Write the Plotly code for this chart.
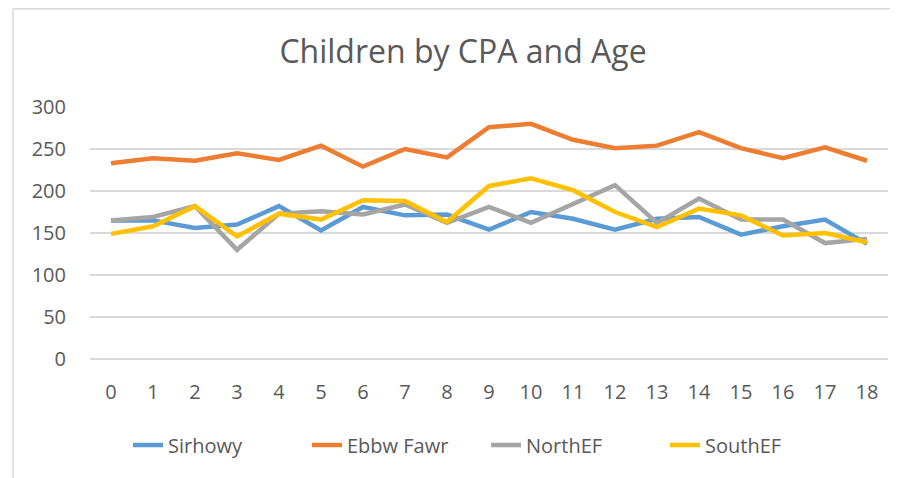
import plotly.graph_objects as go

ages = [str(i) for i in range(19)]
sirhowy = [165, 165, 156, 160, 182, 153, 181, 171, 172, 154, 175, 167, 154, 167, 169, 148, 158, 166, 137]
ebbw_fawr = [233, 239, 236, 245, 237, 254, 229, 250, 240, 276, 280, 261, 251, 254, 270, 251, 239, 252, 236]
north_ef = [165, 169, 182, 130, 173, 176, 172, 184, 162, 181, 162, 185, 207, 162, 191, 166, 166, 138, 143]
south_ef = [149, 158, 182, 146, 173, 166, 189, 188, 163, 206, 215, 201, 175, 157, 179, 171, 147, 150, 139]

series = [
    ("Sirhowy", sirhowy, "#5B9BD5"),
    ("Ebbw Fawr", ebbw_fawr, "#ED7D31"),
    ("NorthEF", north_ef, "#A5A5A5"),
    ("SouthEF", south_ef, "#FFC000"),
]

fig = go.Figure()
for name, vals, color in series:
    fig.add_trace(go.Scatter(x=ages, y=vals, name=name, mode="lines",
                             line=dict(color=color, width=4.5)))

# figure is offset by the page's 8px body margin
L, T, W, H = 82, 99, 798, 252
FW, FH = 898, 478
B = FH - T - H

font_family = "Open Sans, Liberation Sans, sans-serif"
fig.update_layout(
    width=FW, height=FH,
    margin=dict(l=L, r=FW - L - W, t=T, b=B, autoexpand=False),
    paper_bgcolor="white", plot_bgcolor="white",
    title=dict(text="Children by CPA and Age", x=(455 - L) / W, xanchor="center",
               xref="paper",
               y=1 - 44 / FH, yanchor="middle",
               font=dict(family=font_family, size=32, color="#595959")),
    font=dict(family=font_family, size=20, color="#595959"),
    xaxis=dict(type="category", range=[-0.5, 18.5], showgrid=False,
               showline=False, ticks="", ticklabelstandoff=19,
               tickfont=dict(size=20, color="#595959")),
    yaxis=dict(range=[0, 300], dtick=50, showgrid=True, gridcolor="#D9D9D9",
               gridwidth=1.5, zeroline=True, zerolinecolor="#D9D9D9",
               zerolinewidth=1.5, showline=False, ticks="",
               ticklabelstandoff=23, tickfont=dict(size=20, color="#595959")),
    legend=dict(orientation="h", x=(120 - L) / W, xanchor="left",
                y=(H - (437 - T)) / H, yanchor="middle",
                font=dict(size=20, color="#595959"),
                entrywidth=134, entrywidthmode="pixels"),
    showlegend=True,
    shapes=[
        dict(type="line", xref="paper", yref="paper",
             x0=(5 - L) / W, x1=(FW - L) / W,
             y0=(T + H - 0.75) / H, y1=(T + H - 0.75) / H,
             line=dict(color="#D9D9D9", width=1.5)),
        dict(type="line", xref="paper", yref="paper",
             x0=(5 - L) / W, x1=(5 - L) / W,
             y0=(T + H - 0.75) / H, y1=-B / H,
             line=dict(color="#D9D9D9", width=1.5)),
    ],
)

fig.write_html("out.html")
